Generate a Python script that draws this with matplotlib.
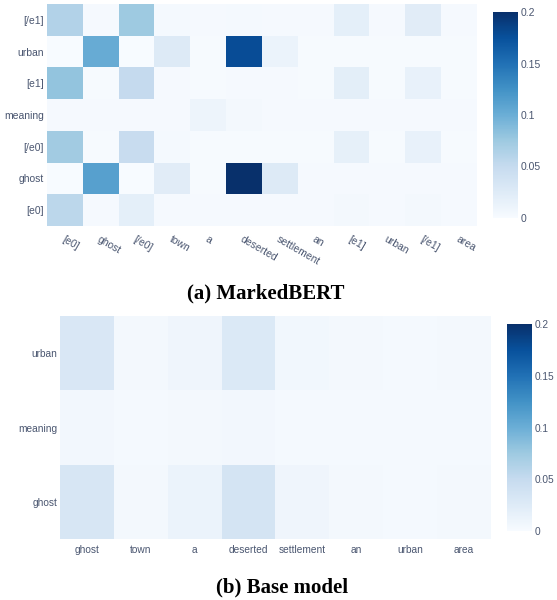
import matplotlib.pyplot as plt
import numpy as np

# MarkedBERT attention (rows listed bottom -> top as drawn)
rows_a = ['[e0]', 'ghost', '[/e0]', 'meaning', '[e1]', 'urban', '[/e1]']
cols_a = ['[e0]', 'ghost', '[/e0]', 'town', 'a', 'deserted', 'settlement',
          'an', '[e1]', 'urban', '[/e1]', 'area']
vals_a = np.array([
    [0.056, 0.002, 0.018, 0.002, 0.002, 0.002, 0.002, 0.002, 0.004, 0.002, 0.004, 0.002],  # [e0]
    [0.000, 0.112, 0.000, 0.022, 0.001, 0.200, 0.025, 0.002, 0.002, 0.002, 0.002, 0.002],  # ghost
    [0.072, 0.001, 0.048, 0.003, 0.001, 0.001, 0.001, 0.001, 0.017, 0.001, 0.015, 0.001],  # [/e0]
    [0.002, 0.002, 0.002, 0.002, 0.010, 0.004, 0.002, 0.002, 0.002, 0.002, 0.002, 0.002],  # meaning
    [0.080, 0.001, 0.050, 0.002, 0.001, 0.002, 0.002, 0.001, 0.020, 0.001, 0.015, 0.001],  # [e1]
    [0.000, 0.102, 0.000, 0.025, 0.001, 0.178, 0.012, 0.001, 0.001, 0.001, 0.001, 0.001],  # urban
    [0.062, 0.002, 0.075, 0.003, 0.002, 0.003, 0.002, 0.002, 0.018, 0.002, 0.022, 0.002],  # [/e1]
])

# Base model attention
rows_b = ['ghost', 'meaning', 'urban']
cols_b = ['ghost', 'town', 'a', 'deserted', 'settlement', 'an', 'urban', 'area']
vals_b = np.array([
    [0.032, 0.004, 0.012, 0.035, 0.008, 0.004, 0.003, 0.004],  # ghost
    [0.005, 0.003, 0.004, 0.005, 0.003, 0.003, 0.003, 0.003],  # meaning
    [0.030, 0.004, 0.008, 0.028, 0.006, 0.004, 0.003, 0.004],  # urban
])

cbar_ticks = [0, 0.05, 0.1, 0.15, 0.2]
cbar_labels = ['0', '0.05', '0.1', '0.15', '0.2']

W, H = 557, 600
txt = '#4a5670'
plt.rcParams['font.family'] = ['Liberation Sans', 'DejaVu Sans']


def box(x0, y0, x1, y1):
    # pixel box -> figure fraction
    return [x0 / W, (H - y1) / H, (x1 - x0) / W, (y1 - y0) / H]


fig = plt.figure(figsize=(W / 100, H / 100), dpi=100)


def heat(ax_box, cb_box, vals, rows, cols, rotate, fs):
    ax = fig.add_axes(box(*ax_box))
    im = ax.imshow(vals, cmap='Blues', vmin=0, vmax=0.2, aspect='auto',
                   origin='lower', interpolation='nearest')
    ax.set_yticks(range(len(rows)))
    ax.set_yticklabels(rows, fontsize=fs, color=txt)
    ax.set_xticks(range(len(cols)))
    if rotate:
        ax.set_xticklabels(cols, fontsize=fs, color=txt, rotation=-30,
                           ha='left', va='top', rotation_mode='anchor')
        ax.tick_params(axis='x', pad=6)
    else:
        ax.set_xticklabels(cols, fontsize=fs, color=txt)
        ax.tick_params(axis='x', pad=4)
    ax.tick_params(length=0)
    ax.tick_params(axis='y', pad=2)
    for s in ax.spines.values():
        s.set_visible(False)
    cax = fig.add_axes(box(*cb_box))
    cb = fig.colorbar(im, cax=cax, ticks=cbar_ticks)
    cb.ax.set_yticklabels(cbar_labels, fontsize=fs, color=txt)
    cb.ax.tick_params(length=0, pad=2)
    cb.outline.set_visible(False)
    return ax


heat((47, 4, 477, 226), (493, 12, 518, 218), vals_a, rows_a, cols_a, True, 7.5)
heat((60, 316, 491, 539), (507, 324, 532, 531), vals_b, rows_b, cols_b, False, 7.3)

fig.text(266 / W, 1 - 293 / H, '(a) MarkedBERT', ha='center', va='center',
         fontsize=15, fontweight='bold', family='Liberation Serif')
fig.text(282 / W, 1 - 587 / H, '(b) Base model', ha='center', va='center',
         fontsize=15, fontweight='bold', family='Liberation Serif')

plt.savefig('out.png', dpi=100)
